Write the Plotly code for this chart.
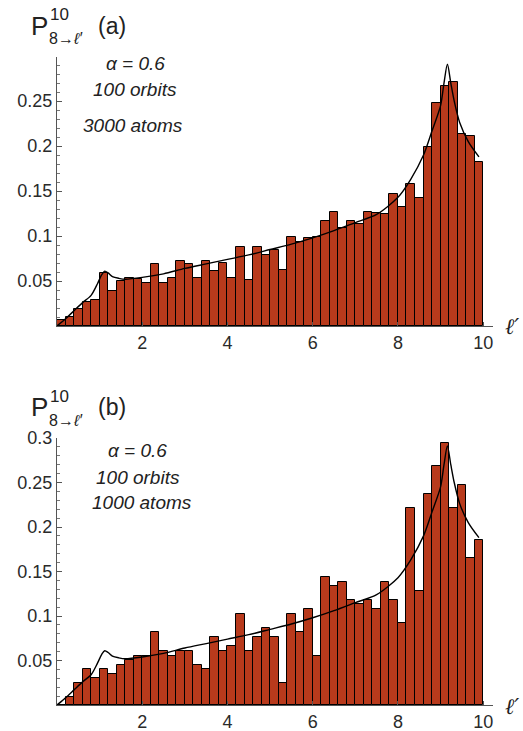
import plotly.graph_objects as go

# ---------------- data ----------------
bin_centers = [round(0.1 + 0.2 * i, 1) for i in range(50)]

hist_a = [0.0067, 0.0096, 0.0185, 0.027, 0.029, 0.0585, 0.039, 0.050, 0.053, 0.052,
          0.048, 0.069, 0.048, 0.053, 0.072, 0.069, 0.0537, 0.0726, 0.0615, 0.070,
          0.0537, 0.0874, 0.051, 0.0874, 0.079, 0.0844, 0.062, 0.0993, 0.0937, 0.0974,
          0.0993, 0.117, 0.127, 0.1085, 0.1167, 0.113, 0.127, 0.126, 0.124, 0.147,
          0.1326, 0.158, 0.142, 0.199, 0.248, 0.267, 0.2715, 0.213, 0.211, 0.182]

hist_b = [0.0, 0.009, 0.025, 0.040, 0.030, 0.040, 0.035, 0.045, 0.0506, 0.0554,
          0.0554, 0.0816, 0.0607, 0.0554, 0.0607, 0.0607, 0.045, 0.040, 0.0768, 0.0607,
          0.0660, 0.1019, 0.0607, 0.0768, 0.0869, 0.0768, 0.0250, 0.1019, 0.0816, 0.1075,
          0.0554, 0.144, 0.134, 0.1386, 0.118, 0.1135, 0.118, 0.1075, 0.1386, 0.118,
          0.0925, 0.221, 0.128, 0.237, 0.268, 0.294, 0.221, 0.247, 0.165, 0.185]

curve_l = [0, 0.2, 0.4, 0.6, 0.8, 0.95, 1.05, 1.12, 1.2, 1.3, 1.45, 1.6, 2.0, 2.5, 3.0,
           3.5, 4.0, 4.5, 5.0, 5.5, 6.0, 6.5, 7.0, 7.5, 8.0, 8.3, 8.6, 8.8, 9.0, 9.08,
           9.16, 9.24, 9.32, 9.45, 9.65, 9.9]
curve_p = [0, 0.008, 0.017, 0.026, 0.034, 0.047, 0.057, 0.061, 0.059, 0.055, 0.053, 0.052,
           0.054, 0.058, 0.064, 0.069, 0.074, 0.079, 0.085, 0.091, 0.098, 0.106, 0.115,
           0.124, 0.143, 0.163, 0.19, 0.217, 0.245, 0.27, 0.291, 0.27, 0.25, 0.226, 0.205,
           0.188]

x_ticks = [2, 4, 6, 8, 10]
y_ticks_a = [0.05, 0.1, 0.15, 0.2, 0.25]
y_tick_text_a = ["0.05", "0.1", "0.15", "0.2", "0.25"]
y_ticks_b = [0.05, 0.1, 0.15, 0.2, 0.25, 0.3]
y_tick_text_b = ["0.05", "0.1", "0.15", "0.2", "0.25", "0.3"]

panel_texts = {
    "a": ["α = 0.6", "100 orbits", "3000 atoms"],
    "b": ["α = 0.6", "100 orbits", "1000 atoms"],
}

# ---------------- layout helpers ----------------
W, H = 523, 731
BAR_COLOR = "#B83A1C"
FONT = "Liberation Sans, Arial, Helvetica, sans-serif"
TICK_COLOR = "#2a2a2a"


def px(xp):
    return xp / W


def py(yp):
    return 1 - yp / H


fig = go.Figure()

panels = [
    ("a", hist_a, "x", "y"),
    ("b", hist_b, "x2", "y2"),
]

for name, hist, xa, ya in panels:
    fig.add_trace(go.Bar(
        x=bin_centers, y=hist, width=0.2, xaxis=xa, yaxis=ya,
        marker=dict(color=BAR_COLOR, line=dict(color="black", width=1)),
        showlegend=False, hoverinfo="skip",
    ))
    fig.add_trace(go.Scatter(
        x=curve_l, y=curve_p, mode="lines", xaxis=xa, yaxis=ya,
        line=dict(color="black", width=1.4, shape="spline", smoothing=0.8),
        showlegend=False, hoverinfo="skip",
    ))

common_x = dict(
    range=[0, 10.23], tickvals=x_ticks, ticktext=[str(v) for v in x_ticks],
    showline=True, linecolor="#555555", linewidth=1, showgrid=False, zeroline=False,
    ticks="inside", ticklen=4, tickcolor="#555555",
    tickfont=dict(family=FONT, size=18, color=TICK_COLOR),
    domain=[px(57), px(493)], automargin=False, fixedrange=True,
)
common_y = dict(
    showline=True, linecolor="#555555", linewidth=1, showgrid=False, zeroline=False,
    ticks="inside", ticklen=5, tickcolor="#555555",
    minor=dict(ticks="inside", ticklen=3, dtick=0.01, tickcolor="#777777"),
    tickfont=dict(family=FONT, size=18, color=TICK_COLOR),
    automargin=False, fixedrange=True,
)

fig.update_layout(
    width=W, height=H,
    margin=dict(l=0, r=0, t=0, b=0),
    paper_bgcolor="white", plot_bgcolor="white",
    bargap=0,
    xaxis=dict(common_x, anchor="y"),
    yaxis=dict(common_y, anchor="x", range=[0, 0.299], tickvals=y_ticks_a,
               ticktext=y_tick_text_a, domain=[py(326), py(57)]),
    xaxis2=dict(common_x, anchor="y2"),
    yaxis2=dict(common_y, anchor="x2", range=[0, 0.3], tickvals=y_ticks_b,
                ticktext=y_tick_text_b, domain=[py(705), py(438)]),
)

annotations = []
for name, dy in [("a", 0), ("b", 381)]:
    annotations.append(dict(x=px(39.5), y=py(26 + dy), xref="paper", yref="paper",
                            text="P", showarrow=False, xanchor="center", yanchor="middle",
                            font=dict(family=FONT, size=26, color="#222222")))
    annotations.append(dict(x=px(48), y=py(15 + dy), xref="paper", yref="paper",
                            text="10", showarrow=False, xanchor="left", yanchor="middle",
                            font=dict(family=FONT, size=17, color="#222222")))
    annotations.append(dict(x=px(47), y=py(39 + dy), xref="paper", yref="paper",
                            text="8→<i>ℓ′</i>", showarrow=False, xanchor="left",
                            yanchor="middle",
                            font=dict(family=FONT, size=16, color="#222222")))
    annotations.append(dict(x=px(112), y=py(26 + dy), xref="paper", yref="paper",
                            text="(" + name + ")", showarrow=False, xanchor="center",
                            yanchor="middle",
                            font=dict(family=FONT, size=23, color="#222222")))

for yl in [326, 706]:
    annotations.append(dict(x=px(521), y=py(yl), xref="paper", yref="paper",
                            text="<i>ℓ′</i>", showarrow=False, xanchor="right",
                            yanchor="middle",
                            font=dict(family="DejaVu Serif", size=22, color="#222222")))

text_pos = {
    "a": ("x", "y", [(1.85, 0.292), (1.83, 0.263), (1.78, 0.223)]),
    "b": ("x2", "y2", [(1.9, 0.2865), (1.9, 0.256), (2.0, 0.227)]),
}
for key, (xr, yr, pos) in text_pos.items():
    for txt, (xx, yy) in zip(panel_texts[key], pos):
        annotations.append(dict(x=xx, y=yy, xref=xr, yref=yr, text="<i>" + txt + "</i>",
                                showarrow=False, xanchor="center", yanchor="middle",
                                font=dict(family=FONT, size=19, color="#222222")))

fig.update_layout(annotations=annotations)

fig.write_html("out.html")
